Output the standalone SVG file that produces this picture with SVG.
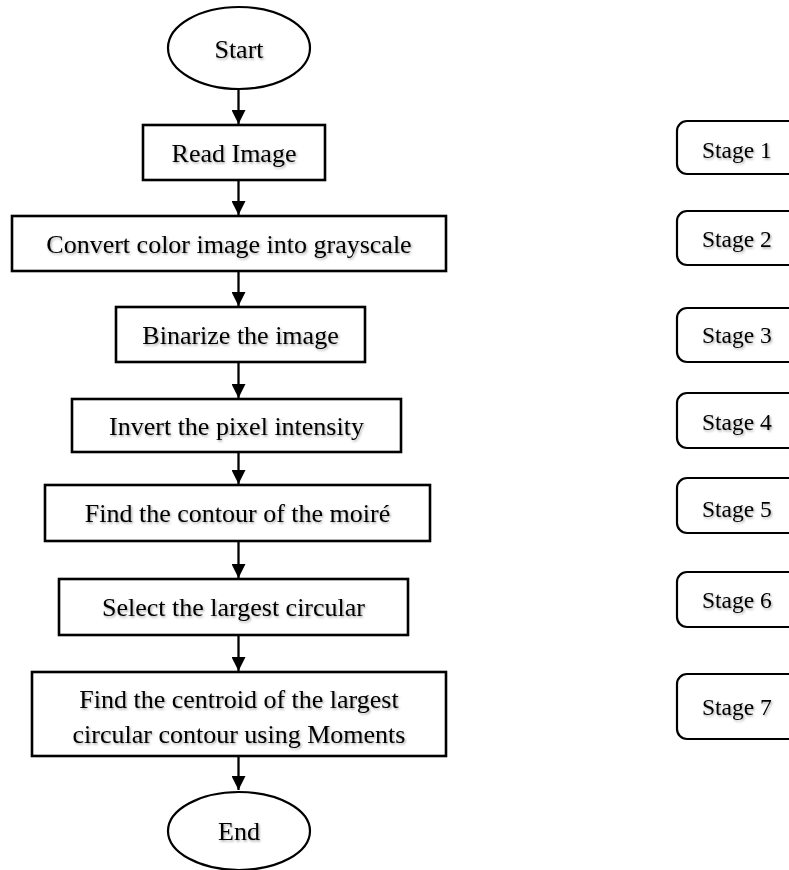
<svg xmlns="http://www.w3.org/2000/svg" width="789" height="870" viewBox="0 0 789 870">
<style>
.box{fill:#fff;stroke:#000;stroke-width:2.6}
.term{fill:#fff;stroke:#000;stroke-width:2.2}
.stage{fill:#fff;stroke:#000;stroke-width:2.2}
.t{font-family:"Liberation Serif","Times New Roman",serif;font-size:26px;fill:#000;text-anchor:middle;filter:url(#sh)}
.s{font-family:"Liberation Serif","Times New Roman",serif;font-size:23.5px;fill:#000;filter:url(#sh)}
.c{stroke:#000;stroke-width:2.3;fill:none;marker-end:url(#ah)}
</style>
<defs>
<filter id="sh" x="-10%" y="-30%" width="120%" height="160%">
<feDropShadow dx="1.2" dy="1.5" stdDeviation="0.9" flood-color="#000" flood-opacity="0.35"/>
</filter>
<marker id="ah" viewBox="0 0 14 14" refX="14" refY="7" markerWidth="14" markerHeight="14" markerUnits="userSpaceOnUse" orient="auto">
<path d="M0,0 L14,7 L0,14 z" fill="#000"/>
</marker>
</defs>
<rect width="789" height="870" fill="#fff"/>
<g id="connectors">
<line class="c" x1="238.5" y1="89" x2="238.5" y2="124"/>
<line class="c" x1="238.5" y1="180" x2="238.5" y2="215"/>
<line class="c" x1="238.5" y1="271" x2="238.5" y2="306"/>
<line class="c" x1="238.5" y1="362" x2="238.5" y2="398"/>
<line class="c" x1="238.5" y1="452" x2="238.5" y2="484"/>
<line class="c" x1="238.5" y1="541" x2="238.5" y2="578"/>
<line class="c" x1="238.5" y1="635" x2="238.5" y2="671"/>
<line class="c" x1="238.5" y1="756" x2="238.5" y2="790"/>
</g>
<g id="start">
<ellipse class="term" cx="239" cy="48" rx="71" ry="41"/>
<text class="t" x="239" y="58">Start</text>
</g>
<g id="read">
<rect class="box" x="143" y="125" width="182" height="55"/>
<text class="t" x="234" y="162">Read Image</text>
</g>
<g id="convert">
<rect class="box" x="12" y="216" width="434" height="55"/>
<text class="t" x="229" y="253">Convert color image into grayscale</text>
</g>
<g id="binarize">
<rect class="box" x="116" y="307" width="249" height="55"/>
<text class="t" x="240.5" y="344">Binarize the image</text>
</g>
<g id="invert">
<rect class="box" x="72" y="399" width="329" height="53"/>
<text class="t" x="236.5" y="435">Invert the pixel intensity</text>
</g>
<g id="contour">
<rect class="box" x="45" y="485" width="385" height="56"/>
<text class="t" x="237.5" y="522">Find the contour of the moiré</text>
</g>
<g id="select">
<rect class="box" x="59" y="579" width="349" height="56"/>
<text class="t" x="233.5" y="616">Select the largest circular</text>
</g>
<g id="centroid">
<rect class="box" x="32" y="672" width="414" height="84"/>
<text class="t" x="239" y="708">Find the centroid of the largest</text>
<text class="t" x="239" y="743">circular contour using Moments</text>
</g>
<g id="end">
<ellipse class="term" cx="239" cy="831" rx="71" ry="39"/>
<text class="t" x="239" y="840">End</text>
</g>
<g id="stage1">
<rect class="stage" x="677" y="121" width="140" height="53" rx="10"/>
<text class="s" x="702" y="158">Stage 1</text>
</g>
<g id="stage2">
<rect class="stage" x="677" y="211" width="140" height="54" rx="10"/>
<text class="s" x="702" y="247">Stage 2</text>
</g>
<g id="stage3">
<rect class="stage" x="677" y="308" width="140" height="54" rx="10"/>
<text class="s" x="702" y="343">Stage 3</text>
</g>
<g id="stage4">
<rect class="stage" x="677" y="393" width="140" height="55" rx="10"/>
<text class="s" x="702" y="430">Stage 4</text>
</g>
<g id="stage5">
<rect class="stage" x="677" y="478" width="140" height="55" rx="10"/>
<text class="s" x="702" y="517">Stage 5</text>
</g>
<g id="stage6">
<rect class="stage" x="677" y="572" width="140" height="55" rx="10"/>
<text class="s" x="702" y="608">Stage 6</text>
</g>
<g id="stage7">
<rect class="stage" x="677" y="674" width="140" height="65" rx="10"/>
<text class="s" x="702" y="715">Stage 7</text>
</g>
</svg>
